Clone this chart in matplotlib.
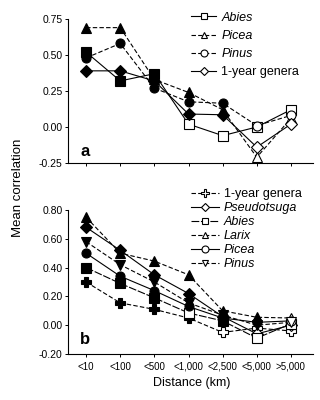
import matplotlib
matplotlib.use("Agg")
import matplotlib.pyplot as plt
from matplotlib.lines import Line2D
import numpy as np

# ---------------- data ----------------
distance_labels = ["<10", "<100", "<500", "<1,000", "<2,500", "<5,000", ">5,000"]

# panel a
a_abies = [0.52, 0.32, 0.37, 0.02, -0.06, 0.00, 0.12]
a_picea = [0.69, 0.69, 0.33, 0.24, 0.12, -0.21, 0.06]
a_pinus = [0.48, 0.58, 0.27, 0.175, 0.165, 0.01, 0.08]
a_oneyear = [0.39, 0.39, 0.32, 0.09, 0.085, -0.14, 0.02]
a_abies_sig = [1, 1, 1, 0, 0, 0, 0]
a_picea_sig = [1, 1, 1, 1, 1, 0, 0]
a_pinus_sig = [1, 1, 1, 1, 1, 0, 0]
a_oneyear_sig = [1, 1, 1, 1, 1, 0, 0]

# panel b
b_oneyear = [0.30, 0.155, 0.11, 0.05, -0.05, -0.02, -0.04]
b_pseudotsuga = [0.68, 0.52, 0.35, 0.22, 0.06, -0.06, 0.00]
b_abies = [0.40, 0.29, 0.19, 0.085, 0.03, -0.09, 0.01]
b_larix = [0.75, 0.50, 0.445, 0.35, 0.10, 0.055, 0.05]
b_picea = [0.50, 0.34, 0.24, 0.13, 0.05, 0.02, 0.03]
b_pinus = [0.58, 0.42, 0.30, 0.155, 0.07, 0.00, 0.02]
b_oneyear_sig = [1, 1, 1, 1, 0, 0, 0]
b_pseudotsuga_sig = [1, 1, 1, 1, 1, 0, 0]
b_abies_sig = [1, 1, 1, 0, 1, 0, 0]
b_larix_sig = [1, 1, 1, 1, 1, 1, 0]
b_picea_sig = [1, 1, 1, 1, 1, 1, 0]
b_pinus_sig = [1, 1, 1, 1, 1, 1, 0]

a_yticks = [-0.25, 0.00, 0.25, 0.50, 0.75]
b_yticks = [-0.20, 0.00, 0.20, 0.40, 0.60, 0.80]

# ---------------- style ----------------
plt.rcParams['font.family'] = ['Liberation Sans', 'DejaVu Sans']
DASH = (0, (4, 2))
LONGDASH = (0, (7, 1.5))
LW = 0.8
MS = 6.5
LEG_MS = 5

fig = plt.figure(figsize=(3.2, 4.0), dpi=100)
ax_a = fig.add_axes([0.2125, 0.5925, 0.766, 0.36])
ax_b = fig.add_axes([0.2125, 0.115, 0.766, 0.36])

x = np.arange(len(distance_labels))


def draw(ax, vals, sig, marker, ls, ms=MS, z=2):
    vals = np.asarray(vals)
    sig = np.asarray(sig, dtype=bool)
    ax.plot(x, vals, color='black', lw=LW, ls=ls, zorder=z)
    ax.plot(x[sig], vals[sig], ls='none', marker=marker, ms=ms,
            mfc='black', mec='black', mew=0.8, zorder=z + 1)
    ax.plot(x[~sig], vals[~sig], ls='none', marker=marker, ms=ms,
            mfc='white', mec='black', mew=0.8, zorder=z + 1)


def proxy(marker, ls, ms=LEG_MS):
    return Line2D([], [], color='black', lw=LW, ls=ls, marker=marker,
                  ms=ms, mfc='white', mec='black', mew=0.8)


# panel a
draw(ax_a, a_abies, a_abies_sig, 's', '-')
draw(ax_a, a_picea, a_picea_sig, '^', DASH)
draw(ax_a, a_pinus, a_pinus_sig, 'o', DASH)
draw(ax_a, a_oneyear, a_oneyear_sig, 'D', '-', ms=6)

# panel b
draw(ax_b, b_oneyear, b_oneyear_sig, 'P', DASH, ms=7)
draw(ax_b, b_pseudotsuga, b_pseudotsuga_sig, 'D', '-', ms=6)
draw(ax_b, b_abies, b_abies_sig, 's', LONGDASH)
draw(ax_b, b_larix, b_larix_sig, '^', DASH)
draw(ax_b, b_picea, b_picea_sig, 'o', '-')
draw(ax_b, b_pinus, b_pinus_sig, 'v', DASH)

for ax, lim, yt in [(ax_a, (-0.25, 0.75), a_yticks), (ax_b, (-0.20, 0.80), b_yticks)]:
    ax.set_ylim(*lim)
    ax.set_xlim(-0.53, 6.65)
    ax.set_yticks(yt)
    ax.set_yticklabels([f"{v:.2f}" for v in yt], fontsize=7.5)
    ax.set_xticks(x)
    for s in ['top', 'right']:
        ax.spines[s].set_visible(False)
    ax.spines['left'].set_linewidth(0.8)
    ax.spines['bottom'].set_linewidth(0.8)
    ax.tick_params(direction='out', length=2.5, width=0.7, pad=1.5)

ax_a.set_xticklabels([])
ax_b.set_xticklabels(distance_labels, fontsize=7)
ax_b.tick_params(axis='x', pad=3)

ax_a.text(0.05, 0.03, 'a', transform=ax_a.transAxes, fontsize=12,
          fontweight='bold', ha='left', va='bottom')
ax_b.text(0.05, 0.05, 'b', transform=ax_b.transAxes, fontsize=12,
          fontweight='bold', ha='left', va='bottom')

fig.text(0.6, 0.042, 'Distance (km)', ha='center', va='center', fontsize=9)
fig.text(0.055, 0.53, 'Mean correlation', ha='center', va='center',
         rotation=90, fontsize=9.5)

leg_a_handles = [proxy('s', '-'), proxy('^', DASH), proxy('o', DASH),
                 proxy('D', '-', 4.5)]
leg_a_labels = ['Abies', 'Picea', 'Pinus', '1-year genera']
la = fig.legend(leg_a_handles, leg_a_labels, loc='upper left',
                bbox_to_anchor=(0.59, 0.977), frameon=False, fontsize=9,
                handlelength=2.0, handletextpad=0.4, labelspacing=0.5,
                borderaxespad=0, borderpad=0.2)
for t in la.get_texts()[:3]:
    t.set_fontstyle('italic')

leg_b_handles = [proxy('P', DASH, 5.5), proxy('D', '-', 4.5), proxy('s', LONGDASH),
                 proxy('^', DASH), proxy('o', '-'), proxy('v', DASH)]
leg_b_labels = ['1-year genera', 'Pseudotsuga', 'Abies', 'Larix', 'Picea', 'Pinus']
lb = fig.legend(leg_b_handles, leg_b_labels, loc='upper left',
                bbox_to_anchor=(0.59, 0.535), frameon=False, fontsize=9,
                handlelength=2.2, handletextpad=0.4, labelspacing=0.15,
                borderaxespad=0, borderpad=0.2)
for t in lb.get_texts()[1:]:
    t.set_fontstyle('italic')

fig.savefig('out.png', dpi=100)
